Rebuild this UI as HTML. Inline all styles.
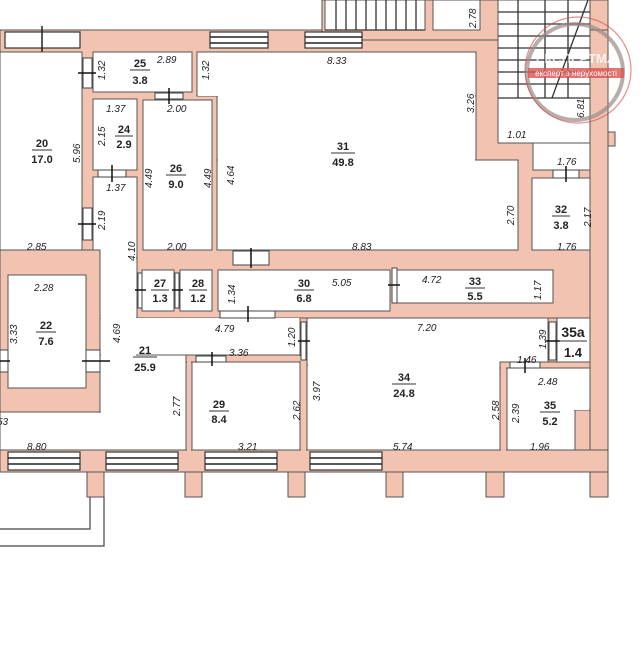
<!DOCTYPE html>
<html><head><meta charset="utf-8"><style>
html,body{margin:0;padding:0;background:#fff;}
svg{display:block;}
text{font-family:"Liberation Sans",sans-serif;fill:#222;}
.d{font-size:10px;font-style:italic;}
.n{font-size:11px;font-weight:bold;text-anchor:middle;}
</style></head><body>
<svg width="642" height="670" viewBox="0 0 642 670" xmlns="http://www.w3.org/2000/svg">
<g fill="#f2c3b1" stroke="#555" stroke-width="1">
<rect x="0" y="30" width="608" height="442"/>
<rect x="322" y="0" width="286" height="40"/>
<rect x="590" y="30" width="18" height="467"/>
<rect x="608" y="132" width="7" height="14"/>
<rect x="87" y="470" width="17" height="27"/>
<rect x="185" y="470" width="17" height="27"/>
<rect x="288" y="470" width="17" height="27"/>
<rect x="386" y="470" width="17" height="27"/>
<rect x="486" y="470" width="18" height="27"/>
</g>
<g fill="#fff" stroke="#555" stroke-width="1">
<rect x="0" y="52" width="82" height="198"/>
<rect x="93" y="52" width="99" height="40"/>
<rect x="197" y="52" width="279" height="44"/>
<rect x="217" y="96" width="259" height="64"/>
<rect x="217" y="160" width="301" height="90"/>
<rect x="93" y="99" width="44" height="71"/>
<rect x="143" y="100" width="69" height="150"/>
<rect x="498" y="0" width="92" height="143"/>
<rect x="533" y="143" width="57" height="27"/>
<rect x="532" y="178" width="58" height="72"/>
<rect x="433" y="0" width="47" height="30"/>
<rect x="325" y="0" width="100" height="30"/>
<rect x="93" y="177" width="44" height="141"/>
<rect x="0" y="412" width="192" height="40"/>
<rect x="100" y="258" width="37" height="194"/>
<rect x="100" y="318" width="207" height="37"/>
<rect x="100" y="355" width="86" height="97"/>
<rect x="192" y="362" width="108" height="90"/>
<rect x="307" y="318" width="241" height="47"/>
<rect x="307" y="365" width="193" height="87"/>
<rect x="557" y="318" width="33" height="44"/>
<rect x="507" y="367" width="83" height="43"/>
<rect x="507" y="410" width="68" height="42"/>
<rect x="8" y="275" width="78" height="113"/>
<rect x="142" y="270" width="32" height="41"/>
<rect x="180" y="270" width="32" height="41"/>
<rect x="218" y="270" width="172" height="41"/>
<rect x="397" y="270" width="156" height="33"/>
</g>
<!-- clean overlaps -->
<g fill="#fff">
<rect x="101" y="318" width="206" height="36"/>
<rect x="101" y="259" width="35" height="100"/>
<rect x="94" y="178" width="42" height="140"/>
<rect x="101" y="356" width="84" height="95"/>
<rect x="1" y="413" width="190" height="38"/>
<rect x="218" y="161" width="257" height="88"/>
<rect x="218" y="95" width="257" height="66"/>
<rect x="198" y="53" width="277" height="43"/>
<rect x="308" y="319" width="239" height="132"/>
<rect x="508" y="368" width="81" height="42"/>
<rect x="508" y="409" width="66" height="42"/>
</g>
<g fill="#f2c3b1" stroke="#555">
<rect x="0" y="250" width="100" height="162"/>
<rect x="8" y="275" width="78" height="113" fill="#fff"/>
<rect x="186" y="355" width="6" height="97"/>
<rect x="186" y="355" width="121" height="7"/>
<rect x="300" y="318" width="7" height="134"/>
<rect x="500" y="362" width="7" height="90"/>
<rect x="500" y="362" width="90" height="6"/>
<rect x="548" y="318" width="9" height="44"/>
<rect x="0" y="450" width="608" height="22"/>
</g>
<rect x="187" y="356" width="4" height="95" fill="#f2c3b1"/>
<rect x="301" y="319" width="5" height="132" fill="#f2c3b1"/>
<rect x="501" y="363" width="5" height="88" fill="#f2c3b1"/>
<rect x="187" y="356" width="119" height="5" fill="#f2c3b1"/>
<!-- stairs -->
<g stroke="#333" stroke-width="1.3">
<line x1="336" y1="0" x2="336" y2="30"/><line x1="346" y1="0" x2="346" y2="30"/><line x1="356" y1="0" x2="356" y2="30"/><line x1="366" y1="0" x2="366" y2="30"/><line x1="376" y1="0" x2="376" y2="30"/><line x1="386" y1="0" x2="386" y2="30"/><line x1="396" y1="0" x2="396" y2="30"/><line x1="406" y1="0" x2="406" y2="30"/><line x1="416" y1="0" x2="416" y2="30"/>
<line x1="325" y1="30" x2="425" y2="30"/>
<line x1="498" y1="12" x2="590" y2="12"/><line x1="498" y1="24" x2="590" y2="24"/><line x1="498" y1="36" x2="590" y2="36"/><line x1="498" y1="48" x2="590" y2="48"/><line x1="498" y1="60" x2="590" y2="60"/><line x1="498" y1="72" x2="590" y2="72"/><line x1="498" y1="84" x2="590" y2="84"/><line x1="498" y1="98" x2="590" y2="98"/>
<line x1="518" y1="0" x2="518" y2="98"/><line x1="545" y1="0" x2="545" y2="98"/><line x1="568" y1="0" x2="568" y2="98"/>
<line x1="552" y1="98" x2="588" y2="0"/>
</g>
<!-- windows -->
<g fill="#fff" stroke="#333" stroke-width="1.2">
<rect x="8" y="452" width="72" height="18"/><rect x="106" y="452" width="72" height="18"/><rect x="205" y="452" width="72" height="18"/><rect x="310" y="452" width="72" height="18"/>
<rect x="5" y="32" width="75" height="16"/><rect x="210" y="32" width="58" height="16"/><rect x="305" y="32" width="57" height="16"/>
</g>
<g stroke="#222" stroke-width="1.5">
<line x1="8" y1="458" x2="80" y2="458"/><line x1="8" y1="464" x2="80" y2="464"/>
<line x1="106" y1="458" x2="178" y2="458"/><line x1="106" y1="464" x2="178" y2="464"/>
<line x1="205" y1="458" x2="277" y2="458"/><line x1="205" y1="464" x2="277" y2="464"/>
<line x1="310" y1="458" x2="382" y2="458"/><line x1="310" y1="464" x2="382" y2="464"/>
<line x1="210" y1="37" x2="268" y2="37"/><line x1="210" y1="43" x2="268" y2="43"/>
<line x1="305" y1="37" x2="362" y2="37"/><line x1="305" y1="43" x2="362" y2="43"/>
<line x1="42" y1="26" x2="42" y2="52"/>
</g>
<g fill="none" stroke="#444" stroke-width="1.2">
<polyline points="0,529 90,529 90,497"/><polyline points="0,546 104,546 104,497"/>
</g>
<!-- doors -->
<g fill="#fff" stroke="#444"><rect x="83" y="58" width="9" height="30"/><rect x="83" y="208" width="9" height="32"/><rect x="155" y="93" width="28" height="6"/><rect x="98" y="170" width="28" height="7"/><rect x="233" y="251" width="36" height="14"/><rect x="138" y="273" width="4" height="35"/><rect x="175" y="273" width="4" height="35"/><rect x="392" y="268" width="5" height="35"/><rect x="220" y="311" width="55" height="7"/><rect x="301" y="322" width="5" height="38"/><rect x="196" y="356" width="30" height="6"/><rect x="549" y="322" width="7" height="38"/><rect x="510" y="362" width="30" height="6"/><rect x="553" y="170" width="26" height="8"/><rect x="0" y="350" width="8" height="22"/><rect x="86" y="350" width="14" height="22"/></g>
<g stroke="#111" stroke-width="1.5"><line x1="78" y1="73" x2="96" y2="73"/><line x1="78" y1="224" x2="96" y2="224"/><line x1="169" y1="88" x2="169" y2="104"/><line x1="112" y1="165" x2="112" y2="182"/><line x1="251" y1="248" x2="251" y2="268"/><line x1="135" y1="290" x2="146" y2="290"/><line x1="172" y1="290" x2="183" y2="290"/><line x1="388" y1="285" x2="400" y2="285"/><line x1="248" y1="306" x2="248" y2="322"/><line x1="298" y1="341" x2="310" y2="341"/><line x1="212" y1="352" x2="212" y2="366"/><line x1="545" y1="341" x2="560" y2="341"/><line x1="525" y1="358" x2="525" y2="373"/><line x1="566" y1="166" x2="566" y2="182"/><line x1="0" y1="361" x2="10" y2="361"/><line x1="82" y1="361" x2="110" y2="361"/></g>
<!-- room labels -->
<g class="n">
<text x="42" y="147" class="n">20</text><text x="42" y="163" class="n">17.0</text>
<text x="140" y="67" class="n">25</text><text x="140" y="84" class="n">3.8</text>
<text x="124" y="133" class="n">24</text><text x="124" y="148" class="n">2.9</text>
<text x="176" y="172" class="n">26</text><text x="176" y="188" class="n">9.0</text>
<text x="343" y="150" class="n">31</text><text x="343" y="166" class="n">49.8</text>
<text x="561" y="213" class="n">32</text><text x="561" y="229" class="n">3.8</text>
<text x="160" y="287" class="n">27</text><text x="160" y="302" class="n">1.3</text>
<text x="198" y="287" class="n">28</text><text x="198" y="302" class="n">1.2</text>
<text x="304" y="287" class="n">30</text><text x="304" y="302" class="n">6.8</text>
<text x="475" y="285" class="n">33</text><text x="475" y="300" class="n">5.5</text>
<text x="46" y="329" class="n">22</text><text x="46" y="345" class="n">7.6</text>
<text x="145" y="354" class="n">21</text><text x="145" y="371" class="n">25.9</text>
<text x="219" y="408" class="n">29</text><text x="219" y="423" class="n">8.4</text>
<text x="404" y="381" class="n">34</text><text x="404" y="397" class="n">24.8</text>
<text x="550" y="409" class="n">35</text><text x="550" y="425" class="n">5.2</text>
<text x="573" y="337" class="n" style="font-size:14px">35a</text><text x="573" y="357" class="n" style="font-size:13px">1.4</text>
</g>
<g stroke="#333" stroke-width="1">
<line x1="32" y1="150" x2="52" y2="150"/><line x1="130" y1="70" x2="150" y2="70"/><line x1="115" y1="136" x2="133" y2="136"/><line x1="166" y1="175" x2="186" y2="175"/><line x1="331" y1="153" x2="355" y2="153"/><line x1="552" y1="216" x2="570" y2="216"/><line x1="151" y1="290" x2="169" y2="290"/><line x1="189" y1="290" x2="207" y2="290"/><line x1="294" y1="290" x2="314" y2="290"/><line x1="465" y1="288" x2="485" y2="288"/><line x1="36" y1="332" x2="56" y2="332"/><line x1="133" y1="357" x2="157" y2="357"/><line x1="209" y1="411" x2="229" y2="411"/><line x1="392" y1="384" x2="416" y2="384"/><line x1="540" y1="412" x2="560" y2="412"/><line x1="559" y1="341" x2="587" y2="341"/>
</g>
<!-- dims horizontal -->
<g class="d">
<text x="157" y="63" class="d">2.89</text><text x="327" y="64" class="d">8.33</text><text x="106" y="112" class="d">1.37</text><text x="167" y="112" class="d">2.00</text><text x="106" y="191" class="d">1.37</text><text x="27" y="250" class="d">2.85</text><text x="167" y="250" class="d">2.00</text><text x="352" y="250" class="d">8.83</text><text x="507" y="138" class="d">1.01</text><text x="557" y="165" class="d">1.76</text><text x="557" y="250" class="d">1.76</text><text x="34" y="291" class="d">2.28</text><text x="332" y="286" class="d">5.05</text><text x="422" y="283" class="d">4.72</text><text x="215" y="332" class="d">4.79</text><text x="417" y="331" class="d">7.20</text><text x="229" y="356" class="d">3.36</text><text x="517" y="363" class="d">1.46</text><text x="538" y="385" class="d">2.48</text><text x="238" y="450" class="d">3.21</text><text x="393" y="450" class="d">5.74</text><text x="530" y="450" class="d">1.96</text><text x="27" y="450" class="d">8.80</text><text x="-3" y="425" class="d">53</text>
</g>
<g class="d">
<text transform="translate(105,80) rotate(-90)">1.32</text><text transform="translate(209,80) rotate(-90)">1.32</text><text transform="translate(105,146) rotate(-90)">2.15</text><text transform="translate(80,163) rotate(-90)">5.96</text><text transform="translate(152,188) rotate(-90)">4.49</text><text transform="translate(211,188) rotate(-90)">4.49</text><text transform="translate(234,185) rotate(-90)">4.64</text><text transform="translate(105,230) rotate(-90)">2.19</text><text transform="translate(135,261) rotate(-90)">4.10</text><text transform="translate(474,113) rotate(-90)">3.26</text><text transform="translate(514,225) rotate(-90)">2.70</text><text transform="translate(476,28) rotate(-90)">2.78</text><text transform="translate(584,118) rotate(-90)">6.81</text><text transform="translate(591,227) rotate(-90)">2.17</text><text transform="translate(17,344) rotate(-90)">3.33</text><text transform="translate(120,343) rotate(-90)">4.69</text><text transform="translate(235,304) rotate(-90)">1.34</text><text transform="translate(541,300) rotate(-90)">1.17</text><text transform="translate(295,347) rotate(-90)">1.20</text><text transform="translate(320,401) rotate(-90)">3.97</text><text transform="translate(180,416) rotate(-90)">2.77</text><text transform="translate(300,420) rotate(-90)">2.62</text><text transform="translate(499,420) rotate(-90)">2.58</text><text transform="translate(519,423) rotate(-90)">2.39</text><text transform="translate(546,349) rotate(-90)">1.39</text>
</g>
<!-- watermark -->
<circle cx="575" cy="72" r="48" fill="none" stroke="#9a8a88" stroke-width="4" opacity="0.7"/>
<circle cx="578" cy="70" r="53" fill="none" stroke="#c44" stroke-width="1.2" opacity="0.6"/>
<rect x="528" y="68" width="96" height="10" fill="#d9534f" opacity="0.8"/>
<text x="576" y="76" style="font-size:8px;fill:#fff;text-anchor:middle">експерт з нерухомості</text>
<text x="576" y="63" style="font-size:13px;font-weight:bold;fill:#fff;text-anchor:middle;opacity:0.8">ЕКСПЕРТМА</text>
</svg>
</body></html>
